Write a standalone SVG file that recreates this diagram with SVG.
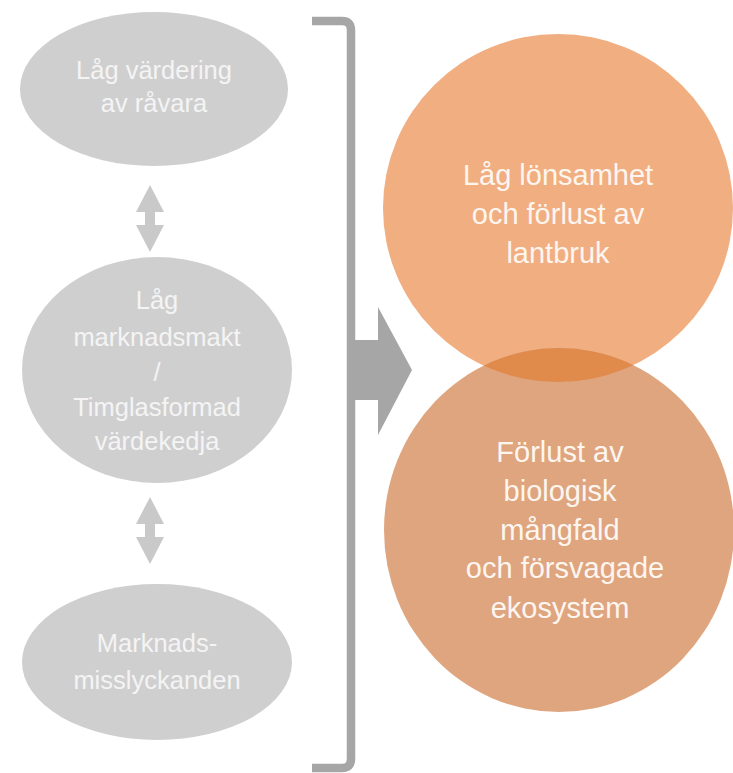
<svg xmlns="http://www.w3.org/2000/svg" width="733" height="773" viewBox="0 0 733 773">
<defs>
<style>
.g{fill:#d0cfd0}
.gt{font-family:"Liberation Sans",Arial,sans-serif;font-size:25.5px;fill:#f4f4f4;text-anchor:middle}
.ot{font-family:"Liberation Sans",Arial,sans-serif;font-size:29px;fill:#fdf6f0;text-anchor:middle}
.da{fill:#c9c9c9}
.br{fill:none;stroke:#a7a6a7;stroke-width:8.5}
.ba{fill:#a7a6a7}
</style>
<clipPath id="c1"><ellipse cx="558" cy="208" rx="175" ry="174"/></clipPath>
</defs>
<rect width="733" height="773" fill="#ffffff"/>
<g id="n1">
<ellipse class="g" cx="154" cy="89" rx="134" ry="77"/>
<text class="gt" x="154" y="79">Låg värdering</text>
<text class="gt" x="154" y="112">av råvara</text>
</g>
<g id="n2">
<ellipse class="g" cx="157" cy="370" rx="135" ry="113"/>
<text class="gt" x="157" y="309">Låg</text>
<text class="gt" x="157" y="346">marknadsmakt</text>
<text class="gt" x="157" y="381">/</text>
<text class="gt" x="157" y="416">Timglasformad</text>
<text class="gt" x="157" y="450">värdekedja</text>
</g>
<g id="n3">
<ellipse class="g" cx="157" cy="662" rx="135" ry="78"/>
<text class="gt" x="157" y="652">Marknads-</text>
<text class="gt" x="157" y="689">misslyckanden</text>
</g>
<g id="n4">
<ellipse cx="558" cy="208" rx="175" ry="174" fill="#f1ae80"/>
</g>
<g id="n5">
<ellipse cx="559" cy="530" rx="175" ry="182" fill="#dfa57f"/>
<ellipse cx="559" cy="530" rx="175" ry="182" fill="#e08a4c" clip-path="url(#c1)"/>
</g>
<g id="labels">
<text class="ot" x="558" y="185">Låg lönsamhet</text>
<text class="ot" x="558" y="224">och förlust av</text>
<text class="ot" x="558" y="263">lantbruk</text>
<text class="ot" x="560" y="462">Förlust av</text>
<text class="ot" x="560" y="501">biologisk</text>
<text class="ot" x="560" y="540">mångfald</text>
<text class="ot" x="565" y="578">och försvagade</text>
<text class="ot" x="560" y="618">ekosystem</text>
</g>
<g id="connectors">
<polygon class="da" points="150,185 164,212 155,212 155,225 164,225 150,252 136,225 145,225 145,212 136,212"/>
<polygon class="da" points="150,497 164,524 155,524 155,537 164,537 150,564 136,537 145,537 145,524 136,524"/>
<path class="br" d="M312,21 L342,21 Q351,21 351,30 L351,759 Q351,768 342,768 L312,768"/>
<polygon class="ba" points="351,340 378,340 378,307 412,370 378,435 378,400 351,400"/>
</g>
</svg>
